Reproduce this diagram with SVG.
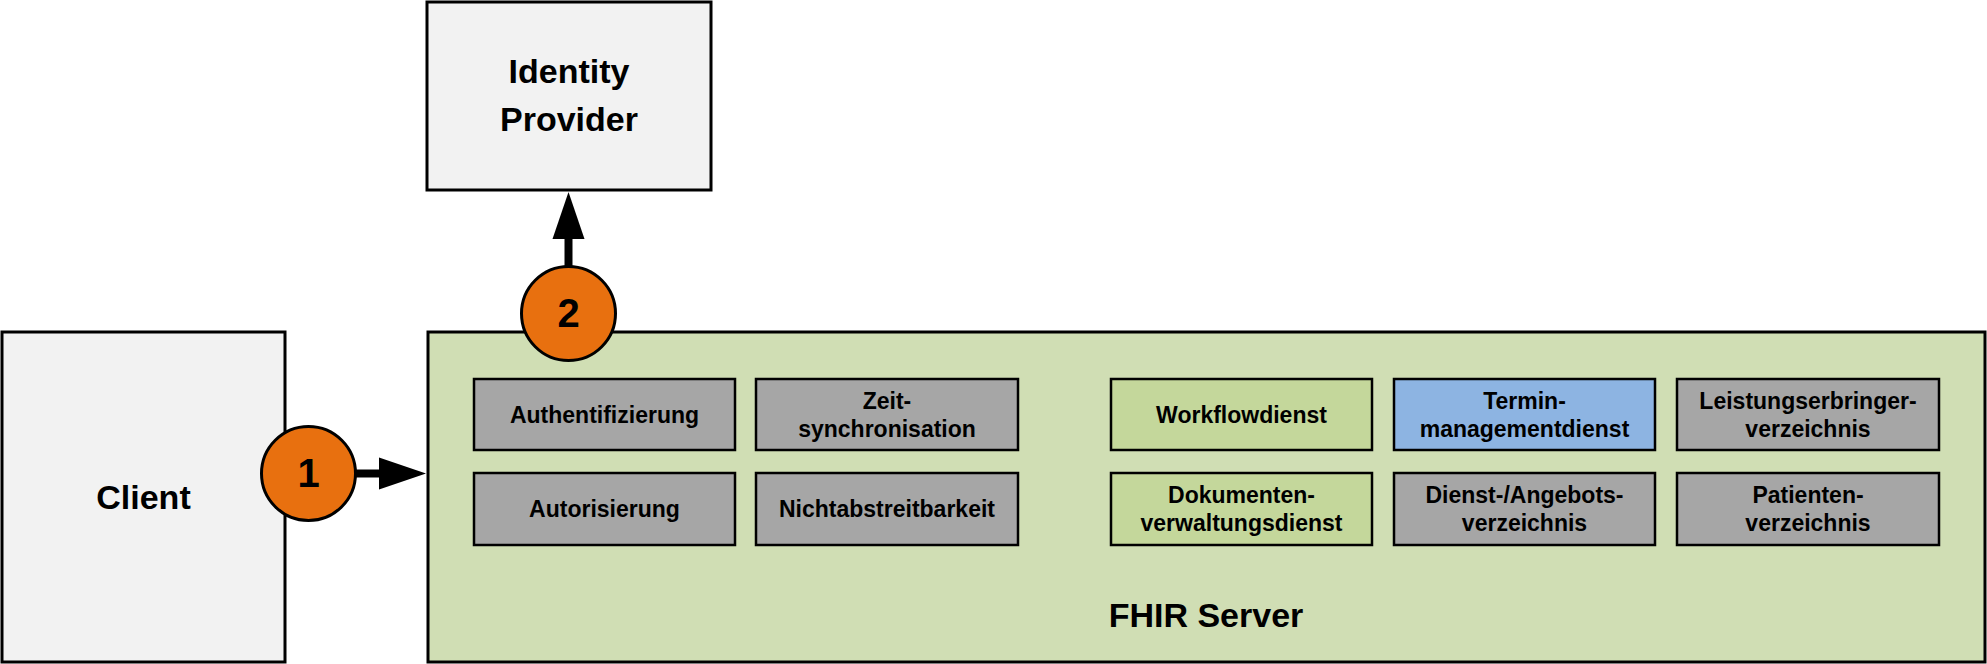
<svg xmlns="http://www.w3.org/2000/svg" width="1987" height="664" viewBox="0 0 1987 664">
<style>
  text { font-family: "Liberation Sans", Arial, sans-serif; font-weight: bold; fill: #000; text-anchor: middle; }
  .big { font-size: 34px; }
  .sm { font-size: 23px; }
  .num { font-size: 40px; }
  .outer { stroke: #000; stroke-width: 3; }
  .box { stroke: #000; stroke-width: 2.5; }
  .lg { fill: #F2F2F2; }
  .grey { fill: #A6A6A6; }
  .green { fill: #C4D79B; }
  .blue { fill: #8DB4E2; }
  .srv { fill: #D0DEB4; }
  .badge { fill: #E8700F; stroke: #000; stroke-width: 3; }
  .conn { stroke: #000; stroke-width: 8; fill: none; }
</style>
<defs>
  <marker id="ah" markerUnits="userSpaceOnUse" markerWidth="48" markerHeight="32" refX="1" refY="16" orient="auto" overflow="visible">
    <path d="M0,0 L47,16 L0,32 Z" fill="#000"/>
  </marker>
</defs>

<g id="client">
  <rect class="outer lg" x="2" y="332" width="283" height="330"/>
  <text class="big" x="143.5" y="509">Client</text>
</g>

<g id="identity-provider">
  <rect class="outer lg" x="427" y="2" width="284" height="188"/>
  <text class="big" x="569" y="83">Identity</text>
  <text class="big" x="569" y="131">Provider</text>
</g>

<g id="fhir-server">
  <rect class="outer srv" x="428" y="332" width="1557" height="330"/>
  <text class="big" x="1206" y="627">FHIR Server</text>
</g>

<g id="authentifizierung">
  <rect class="box grey" x="474" y="379" width="261" height="71"/>
  <text class="sm" x="604.5" y="423">Authentifizierung</text>
</g>
<g id="zeitsynchronisation">
  <rect class="box grey" x="756" y="379" width="262" height="71"/>
  <text class="sm" x="887" y="409">Zeit-</text>
  <text class="sm" x="887" y="437">synchronisation</text>
</g>
<g id="workflowdienst">
  <rect class="box green" x="1111" y="379" width="261" height="71"/>
  <text class="sm" x="1241.5" y="423">Workflowdienst</text>
</g>
<g id="terminmanagementdienst">
  <rect class="box blue" x="1394" y="379" width="261" height="71"/>
  <text class="sm" x="1524.5" y="409">Termin-</text>
  <text class="sm" x="1524.5" y="437">managementdienst</text>
</g>
<g id="leistungserbringerverzeichnis">
  <rect class="box grey" x="1677" y="379" width="262" height="71"/>
  <text class="sm" x="1808" y="409">Leistungserbringer-</text>
  <text class="sm" x="1808" y="437">verzeichnis</text>
</g>

<g id="autorisierung">
  <rect class="box grey" x="474" y="473" width="261" height="72"/>
  <text class="sm" x="604.5" y="517">Autorisierung</text>
</g>
<g id="nichtabstreitbarkeit">
  <rect class="box grey" x="756" y="473" width="262" height="72"/>
  <text class="sm" x="887" y="517">Nichtabstreitbarkeit</text>
</g>
<g id="dokumentenverwaltungsdienst">
  <rect class="box green" x="1111" y="473" width="261" height="72"/>
  <text class="sm" x="1241.5" y="503">Dokumenten-</text>
  <text class="sm" x="1241.5" y="531">verwaltungsdienst</text>
</g>
<g id="dienst-angebotsverzeichnis">
  <rect class="box grey" x="1394" y="473" width="261" height="72"/>
  <text class="sm" x="1524.5" y="503">Dienst-/Angebots-</text>
  <text class="sm" x="1524.5" y="531">verzeichnis</text>
</g>
<g id="patientenverzeichnis">
  <rect class="box grey" x="1677" y="473" width="262" height="72"/>
  <text class="sm" x="1808" y="503">Patienten-</text>
  <text class="sm" x="1808" y="531">verzeichnis</text>
</g>

<g id="connectors">
  <line class="conn" x1="356" y1="473.5" x2="380" y2="473.5" marker-end="url(#ah)"/>
  <line class="conn" x1="568.5" y1="266" x2="568.5" y2="238" marker-end="url(#ah)"/>
</g>

<g id="badge-1">
  <circle class="badge" cx="308.5" cy="473.5" r="47"/>
  <text class="num" x="308.5" y="487">1</text>
</g>
<g id="badge-2">
  <circle class="badge" cx="568.5" cy="313.5" r="47"/>
  <text class="num" x="568.5" y="327">2</text>
</g>
</svg>
